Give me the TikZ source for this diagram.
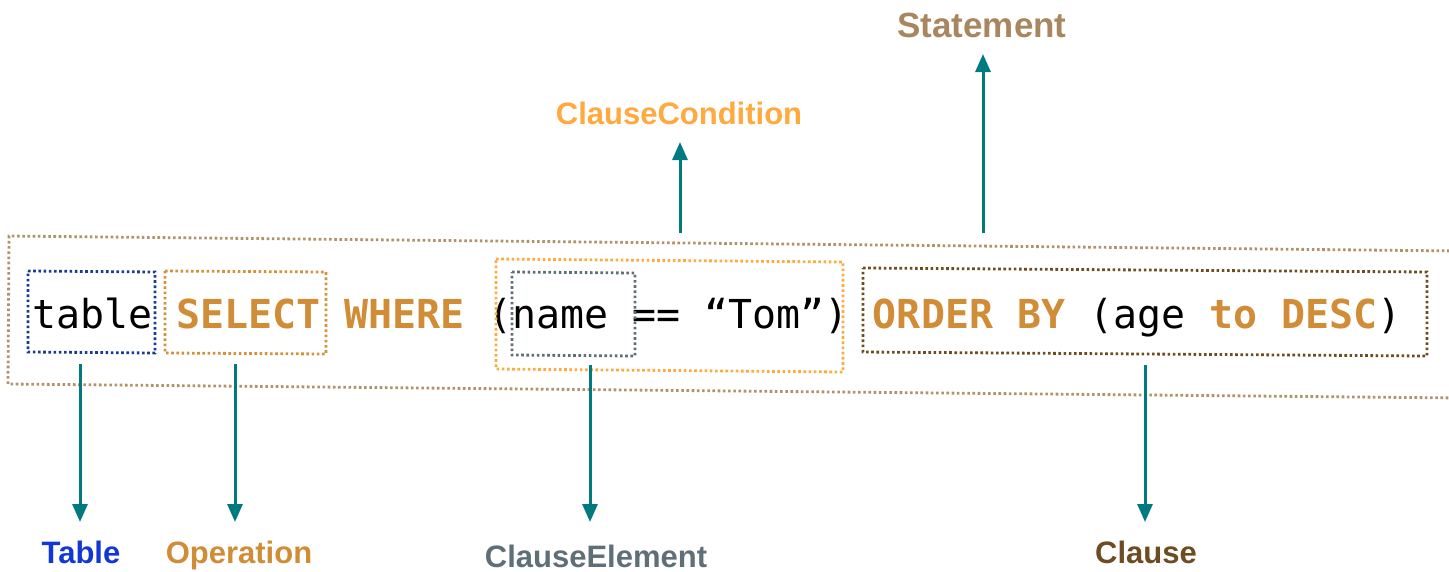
\documentclass[tikz,border=0pt]{standalone}
\usepackage{fontspec}
\setmainfont{Liberation Sans}
\newfontfamily\codefont{DejaVu Sans Mono}
\usetikzlibrary{arrows.meta}

\definecolor{kw}{HTML}{D08C36}
\definecolor{arrowteal}{HTML}{00797F}
\definecolor{stmtline}{HTML}{B2926B}
\definecolor{stmttext}{HTML}{A88760}
\definecolor{tablebox}{HTML}{1B3A94}
\definecolor{tabletext}{HTML}{1238D4}
\definecolor{opbox}{HTML}{D4903A}
\definecolor{condcol}{HTML}{FFA93F}
\definecolor{elemcol}{HTML}{5E6F78}
\definecolor{clausecol}{HTML}{6E4C22}

\tikzset{
  dotbox/.style={line width=2.8pt, dash pattern=on 2.6pt off 2.6pt},
  arr/.style={draw=arrowteal, line width=3pt,
    -{Triangle[width=15pt,length=18pt]}, arrowteal},
  lbl/.style={anchor=base, inner sep=0pt,
    font=\fontsize{31}{37}\selectfont\bfseries},
}

\begin{document}
\begin{tikzpicture}[x=1pt,y=-1pt]
\useasboundingbox (0,0) rectangle (1449,571);
\clip (0,0) rectangle (1449,571);

% the query line
\node[anchor=base west, inner sep=0pt, font=\codefont\fontsize{39.9}{46}\selectfont]
  (code) at (32,328)
  {table {\bfseries\color{kw}SELECT} {\bfseries\color{kw}WHERE} (name == “Tom”) {\bfseries\color{kw}ORDER BY} (age {\bfseries\color{kw}to} {\bfseries\color{kw}DESC})};

% statement frame (open on the right)
\coordinate (sTL) at (9,236);
\coordinate (sBL) at (8,384);
\coordinate (sTR) at (1460,251);
\coordinate (sBR) at (1460,398);
\draw[dotbox, draw=stmtline] (sTR) -- (sTL) -- (sBL) -- (sBR);

% table box
\draw[dotbox, draw=tablebox] (28,271) -- (155,272) -- (155,353) -- (28,352) -- cycle;
% operation box
\draw[dotbox, draw=opbox] (165,271) -- (326,272) -- (326,354) -- (165,353) -- cycle;
% clause condition box
\draw[dotbox, draw=condcol] (496,259) -- (843,262) -- (843,372) -- (496,369) -- cycle;
% clause element box
\draw[dotbox, draw=elemcol] (512,272) -- (635,273) -- (635,356) -- (512,355) -- cycle;
% clause box
\draw[dotbox, draw=clausecol] (863,268) -- (1427,272) -- (1427,356) -- (863,352) -- cycle;

% labels
\node[lbl, text=tabletext] (tableLbl) at (81,563) {Table};
\node[lbl, text=kw] (opLbl) at (239,563) {Operation};
\node[lbl, text=elemcol] (elemLbl) at (596,567) {ClauseElement};
\node[lbl, text=clausecol] (clauseLbl) at (1146,563) {Clause};
\node[lbl, text=condcol] (condLbl) at (679,124) {ClauseCondition};
\node[lbl, text=stmttext, font=\fontsize{35}{42}\selectfont\bfseries] (stmtLbl) at (982,37) {Statement};

% connector ends
\coordinate (tableFoot) at (80,364);
\coordinate (tableTip) at (80,522);
\coordinate (opFoot) at (235,364);
\coordinate (opTip) at (235,522);
\coordinate (elemFoot) at (590,365);
\coordinate (elemTip) at (590,522);
\coordinate (clauseFoot) at (1145,365);
\coordinate (clauseTip) at (1145,522);
\coordinate (condFoot) at (680,233);
\coordinate (condTip) at (680,142);
\coordinate (stmtFoot) at (983,233);
\coordinate (stmtTip) at (983,54);

\draw[arr] (tableFoot) -- (tableTip);
\draw[arr] (opFoot) -- (opTip);
\draw[arr] (elemFoot) -- (elemTip);
\draw[arr] (clauseFoot) -- (clauseTip);
\draw[arr] (condFoot) -- (condTip);
\draw[arr] (stmtFoot) -- (stmtTip);
\end{tikzpicture}
\end{document}
